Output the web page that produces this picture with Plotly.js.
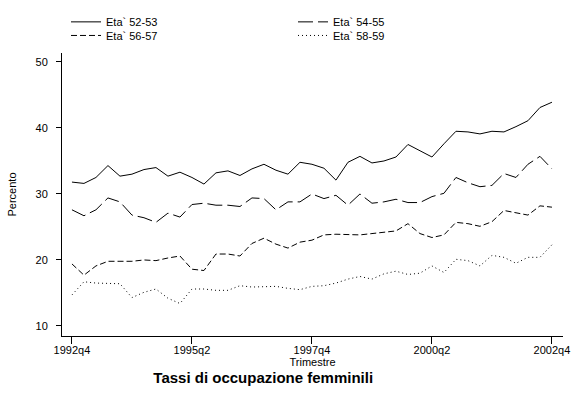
<!DOCTYPE html>
<html>
<head>
<meta charset="utf-8">
<script src="https://cdn.plot.ly/plotly-3.0.1.min.js"></script>
<style>html,body{margin:0;padding:0;background:#fff}#chart{width:576px;height:399px}</style>
</head>
<body>
<div id="chart"></div>
<script>
// Quarters 1992q4 .. 2002q4
var quarters = [
  "1992q4","1993q1","1993q2","1993q3","1993q4","1994q1","1994q2","1994q3","1994q4",
  "1995q1","1995q2","1995q3","1995q4","1996q1","1996q2","1996q3","1996q4",
  "1997q1","1997q2","1997q3","1997q4","1998q1","1998q2","1998q3","1998q4",
  "1999q1","1999q2","1999q3","1999q4","2000q1","2000q2","2000q3","2000q4",
  "2001q1","2001q2","2001q3","2001q4","2002q1","2002q2","2002q3","2002q4"
];
var tickLabels = ["1992q4","1995q2","1997q4","2000q2","2002q4"];
var yTicks = [10, 20, 30, 40, 50];

var eta5253 = [31.8,31.6,32.5,34.3,32.7,33.0,33.7,34.0,32.7,33.3,32.5,31.5,33.2,33.5,32.8,33.8,34.5,33.6,33.0,34.8,34.5,33.9,32.1,34.8,35.7,34.7,35.0,35.6,37.5,36.6,35.6,37.6,39.5,39.4,39.1,39.5,39.4,40.2,41.1,43.1,43.9];
var eta5455 = [27.6,26.7,27.6,29.4,28.8,26.8,26.4,25.7,27.1,26.5,28.4,28.6,28.3,28.3,28.1,29.4,29.3,27.6,28.8,28.8,30.0,29.3,29.8,28.3,30.0,28.6,28.8,29.2,28.7,28.7,29.6,30.1,32.5,31.7,31.1,31.3,33.1,32.5,34.5,35.7,33.8];
var eta5657 = [19.4,17.7,19.1,19.8,19.8,19.8,20.0,19.9,20.3,20.6,18.6,18.4,20.9,20.9,20.6,22.5,23.3,22.4,21.8,22.7,23.0,23.8,23.9,23.9,23.8,24.0,24.2,24.4,25.5,24.0,23.4,23.8,25.7,25.5,25.1,25.8,27.5,27.2,26.8,28.2,28.0];
var eta5859 = [14.7,16.7,16.5,16.5,16.4,14.3,15.1,15.6,14.2,13.4,15.6,15.6,15.4,15.4,16.1,15.9,16.0,16.0,15.7,15.5,16.0,16.1,16.5,17.1,17.5,17.1,17.9,18.3,17.8,18.0,19.1,18.1,20.1,19.9,19.1,20.7,20.4,19.5,20.4,20.4,22.3];

var seriesNames = ["Eta` 52-53","Eta` 54-55","Eta` 56-57","Eta` 58-59"];

var FONT = "Liberation Sans, Arial, sans-serif";

function tr(y, name, dash, legend) {
  return {
    x: quarters, y: y, name: name, type: "scatter", mode: "lines",
    line: {color: "#000", width: 1, dash: dash},
    legend: legend, hoverinfo: "x+y+name"
  };
}

var data = [
  tr(eta5253, seriesNames[0], "solid", "legend"),
  tr(eta5455, seriesNames[1], "15px,5px", "legend"),
  tr(eta5657, seriesNames[2], "6px,3px", "legend2"),
  tr(eta5859, seriesNames[3], "1px,3px", "legend2")
];

var legendCommon = {
  orientation: "h", xanchor: "left", yanchor: "middle",
  x: 0.008, entrywidth: 182, entrywidthmode: "pixels",
  font: {family: FONT, size: 11, color: "#000"},
  bgcolor: "rgba(0,0,0,0)", borderwidth: 0, tracegroupgap: 0,
  itemclick: false, itemdoubleclick: false
};

var layout = {
  width: 576, height: 399,
  margin: {l: 62, r: 13, t: 53, b: 63, autoexpand: false},
  paper_bgcolor: "#fff", plot_bgcolor: "#fff",
  font: {family: FONT, size: 11, color: "#000"},
  showlegend: true,
  legend: Object.assign({}, legendCommon, {y: 1.11}),
  legend2: Object.assign({}, legendCommon, {y: 1.062}),
  title: {
    text: "Tassi di occupazione femminili",
    font: {family: FONT, size: 15, color: "#000", weight: "bold"},
    xref: "container", yref: "container",
    x: 0.457, xanchor: "center", y: 0.054, yanchor: "middle"
  },
  xaxis: {
    type: "category",
    range: [-0.83, 40.92],
    tickmode: "array", tickvals: tickLabels, ticktext: tickLabels,
    ticks: "outside", ticklen: 7, tickwidth: 1, tickcolor: "#000",
    ticklabelstandoff: -3,
    showline: true, linecolor: "#000", linewidth: 1,
    showgrid: false, zeroline: false,
    tickfont: {family: FONT, size: 11, color: "#000"},
    title: {text: "Trimestre", font: {family: FONT, size: 11, color: "#000"}, standoff: 0},
    fixedrange: true
  },
  yaxis: {
    range: [8.48, 51.36],
    tickmode: "array", tickvals: yTicks,
    ticks: "outside", ticklen: 5, tickwidth: 1, tickcolor: "#000",
    ticklabelstandoff: 6,
    showline: true, linecolor: "#000", linewidth: 1,
    showgrid: false, zeroline: false,
    tickfont: {family: FONT, size: 11, color: "#000"},
    title: {text: "Percento", font: {family: FONT, size: 11, color: "#000"}, standoff: 16},
    fixedrange: true
  }
};

Plotly.newPlot("chart", data, layout, {displayModeBar: false, staticPlot: true});
</script>
</body>
</html>
